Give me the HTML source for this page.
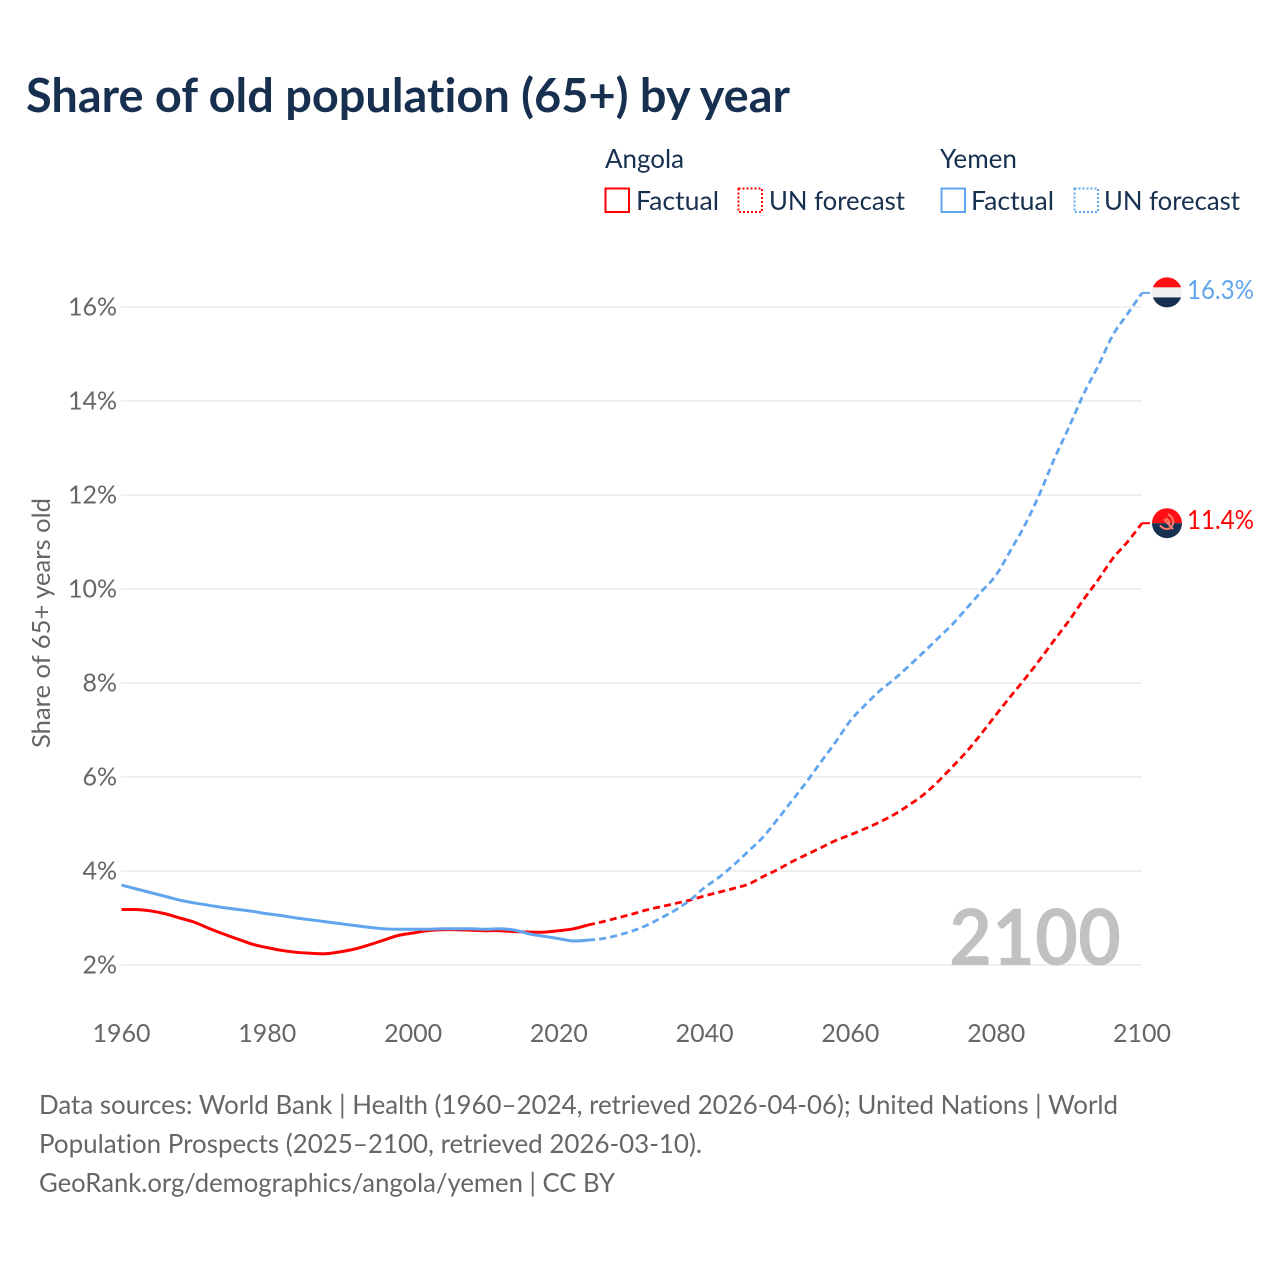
<!DOCTYPE html>
<html lang="en">
<head>
<meta charset="utf-8">
<title>Share of old population (65+) by year</title>
<style>
html,body{margin:0;padding:0;background:#fff;width:1280px;height:1280px;overflow:hidden}
svg{display:block}
text{font-family:"Lato","Carlito","Liberation Sans",sans-serif;font-variant-ligatures:none}
</style>
</head>
<body>
<svg id="chart" xmlns="http://www.w3.org/2000/svg" width="1280" height="1280" viewBox="0 0 1280 1280">
  <rect width="1280" height="1280" fill="#fff"/>
  <text x="26" y="112" font-size="47" font-weight="700" fill="#18304f" textLength="764" lengthAdjust="spacingAndGlyphs">Share of old population (65+) by year</text>

  <g id="legend" fill="#18304f" font-size="26">
    <text x="605" y="168" textLength="79" lengthAdjust="spacingAndGlyphs">Angola</text>
    <rect x="605.5" y="188.5" width="23.5" height="23.5" fill="none" stroke="#ff0000" stroke-width="2"/>
    <text x="636" y="210" textLength="83" lengthAdjust="spacingAndGlyphs">Factual</text>
    <rect x="738.5" y="188.5" width="23.5" height="23.5" fill="none" stroke="#ff0000" stroke-width="2" stroke-dasharray="2 2"/>
    <text x="769" y="210" textLength="136" lengthAdjust="spacingAndGlyphs">UN forecast</text>
    <text x="940" y="168" textLength="77" lengthAdjust="spacingAndGlyphs">Yemen</text>
    <rect x="941.5" y="188.5" width="23.5" height="23.5" fill="none" stroke="#60a5ee" stroke-width="2"/>
    <text x="971" y="210" textLength="83" lengthAdjust="spacingAndGlyphs">Factual</text>
    <rect x="1074.5" y="188.5" width="23.5" height="23.5" fill="none" stroke="#60a5ee" stroke-width="2" stroke-dasharray="2 2"/>
    <text x="1104" y="210" textLength="136" lengthAdjust="spacingAndGlyphs">UN forecast</text>
  </g>

  <g id="grid"></g>
  <g id="yTicks"></g>
  <g id="xTicks"></g>

  <text transform="translate(50 623) rotate(-90)" text-anchor="middle" font-size="25.5" fill="#666" textLength="250" lengthAdjust="spacingAndGlyphs">Share of 65+ years old</text>

  <text x="949" y="965" font-size="78" font-weight="700" fill="#c0c1c0" textLength="172" lengthAdjust="spacingAndGlyphs">2100</text>

  <g id="series" fill="none" stroke-linejoin="round"></g>
  <g id="endMarks"></g>

  <g font-size="26" fill="#666">
    <text x="39" y="1114" textLength="1079" lengthAdjust="spacingAndGlyphs">Data sources: World Bank | Health (1960–2024, retrieved 2026-04-06); United Nations | World</text>
    <text x="39" y="1153" textLength="663" lengthAdjust="spacingAndGlyphs">Population Prospects (2025–2100, retrieved 2026-03-10).</text>
    <text x="39" y="1192" textLength="576" lengthAdjust="spacingAndGlyphs">GeoRank.org/demographics/angola/yemen | CC BY</text>
  </g>
</svg>
<script>
const xTickValues = [1960, 1980, 2000, 2020, 2040, 2060, 2080, 2100];
const yTickValues = [2, 4, 6, 8, 10, 12, 14, 16];

const factualYears = [1960,1962,1964,1966,1968,1970,1972,1974,1976,1978,1980,1982,1984,1986,1988,1990,1992,1994,1996,1998,2000,2002,2004,2006,2008,2010,2012,2014,2016,2018,2020,2022,2024];
const forecastYears = [2024,2026,2028,2030,2032,2034,2036,2038,2040,2042,2044,2046,2048,2050,2052,2054,2056,2058,2060,2062,2064,2066,2068,2070,2072,2074,2076,2078,2080,2082,2084,2086,2088,2090,2092,2094,2096,2098,2100];

const angolaFactual = [3.18,3.18,3.15,3.09,3.00,2.91,2.78,2.66,2.55,2.44,2.37,2.31,2.27,2.25,2.24,2.28,2.34,2.43,2.53,2.63,2.68,2.73,2.75,2.75,2.74,2.73,2.73,2.71,2.70,2.70,2.73,2.77,2.85];
const angolaForecast = [2.85,2.92,3.00,3.08,3.17,3.24,3.31,3.38,3.47,3.55,3.63,3.72,3.88,4.03,4.20,4.35,4.50,4.65,4.77,4.90,5.04,5.20,5.40,5.62,5.90,6.22,6.55,6.93,7.33,7.72,8.10,8.50,8.92,9.33,9.78,10.20,10.65,11.00,11.40];

const yemenFactual = [3.70,3.62,3.54,3.46,3.38,3.32,3.27,3.22,3.18,3.14,3.09,3.05,3.00,2.96,2.92,2.88,2.84,2.80,2.77,2.76,2.76,2.76,2.77,2.77,2.77,2.76,2.77,2.74,2.66,2.61,2.56,2.51,2.53];
const yemenForecast = [2.53,2.56,2.63,2.72,2.84,3.00,3.17,3.38,3.65,3.87,4.13,4.42,4.72,5.10,5.50,5.90,6.33,6.75,7.20,7.53,7.83,8.08,8.36,8.65,8.95,9.25,9.60,9.95,10.30,10.83,11.38,12.04,12.78,13.45,14.15,14.75,15.40,15.85,16.30];

const NS = 'http://www.w3.org/2000/svg';
const xScale = function (year) { return 121.5 + (year - 1960) * (1142 - 121.5) / 140; };
const yScale = function (val) { return 965 - (val - 2) * 47; };

function make(tag, parent, attrs) {
  const el = document.createElementNS(NS, tag);
  for (const k in attrs) el.setAttribute(k, attrs[k]);
  parent.appendChild(el);
  return el;
}

function smoothPath(xs, ys) {
  const pts = xs.map(function (x, i) { return [xScale(x), yScale(ys[i])]; });
  let d = 'M' + pts[0][0].toFixed(2) + ' ' + pts[0][1].toFixed(2);
  for (let i = 0; i < pts.length - 1; i++) {
    const p0 = pts[Math.max(0, i - 1)], p1 = pts[i], p2 = pts[i + 1], p3 = pts[Math.min(pts.length - 1, i + 2)];
    const c1x = p1[0] + (p2[0] - p0[0]) / 6, c1y = p1[1] + (p2[1] - p0[1]) / 6;
    const c2x = p2[0] - (p3[0] - p1[0]) / 6, c2y = p2[1] - (p3[1] - p1[1]) / 6;
    d += 'C' + c1x.toFixed(2) + ' ' + c1y.toFixed(2) + ' ' + c2x.toFixed(2) + ' ' + c2y.toFixed(2) + ' ' + p2[0].toFixed(2) + ' ' + p2[1].toFixed(2);
  }
  return d;
}

const grid = document.getElementById('grid');
const yTicks = document.getElementById('yTicks');
const xTicks = document.getElementById('xTicks');
const series = document.getElementById('series');
const endMarks = document.getElementById('endMarks');

yTickValues.forEach(function (v) {
  const line = make('line', grid, { x1: 121, x2: 1142, y1: yScale(v), y2: yScale(v), stroke: '#ebebeb', 'stroke-width': 1.5 });
  
  
  const t = make('text', yTicks, { x: 117, y: yScale(v) + 8.5, 'text-anchor': 'end', 'font-size': 25, fill: '#666' });
  t.textContent = v + '%';
  
  
});

xTickValues.forEach(function (y) {
  const t = make('text', xTicks, { x: xScale(y), y: 1042, 'text-anchor': 'middle', 'font-size': 25, fill: '#666' });
  t.textContent = y;
  
  
});

function drawSeries(key, color, factual, forecast) {
  const fc = make('path', series, { d: smoothPath(forecastYears, forecast), stroke: color, 'stroke-width': 2.8, 'stroke-dasharray': '7 4.2' });
  
  
  const fa = make('path', series, { d: smoothPath(factualYears, factual), stroke: color, 'stroke-width': 3 });
  
  

  const last = forecast[forecast.length - 1];
  const ly = yScale(last);
  const lead = make('line', endMarks, { x1: 1142, x2: 1150, y1: ly, y2: ly, stroke: color, 'stroke-width': 2 });
  
  
  const lab = make('text', endMarks, { x: 1187, y: ly + 6, 'font-size': 26, fill: color, textLength: 67, lengthAdjust: 'spacingAndGlyphs' });
  lab.textContent = last.toFixed(1) + '%';
  
  
  return ly;
}

const angolaY = drawSeries('angola', '#ff0000', angolaFactual, angolaForecast);
const yemenY = drawSeries('yemen', '#60a5ee', yemenFactual, yemenForecast);

function flag(key, cy, bands) {
  const g = make('g', endMarks, { transform: 'translate(1167 ' + cy + ')' });
  
  
  const id = key + '-clip';
  const cp = make('clipPath', g, { id: id });
  make('circle', cp, { cx: 0, cy: 0, r: 15 });
  const inner = make('g', g, { 'clip-path': 'url(#' + id + ')' });
  bands.forEach(function (b) {
    make('rect', inner, { x: -16, y: b[0], width: 32, height: b[1], fill: b[2] });
  });
  return g;
}

flag('yemen', yemenY - 0.5, [[-16, 11, '#ff0f14'], [-5, 10, '#f0f0f0'], [5, 11, '#18304f']]);
const angolaFlag = flag('angola', angolaY, [[-16, 16, '#ff0f14'], [0, 16, '#18304f']]);
const emblem = make('path', angolaFlag, { d: 'M1 -9C7 -6 8 1 3 5C-1 7 -5 5 -7 2M-3 -4L6 6M-1 -5C2 -3 3 -1 2 1', fill: 'none', stroke: '#ff7a6b', 'stroke-width': 2 });


</script>
</body>
</html>
